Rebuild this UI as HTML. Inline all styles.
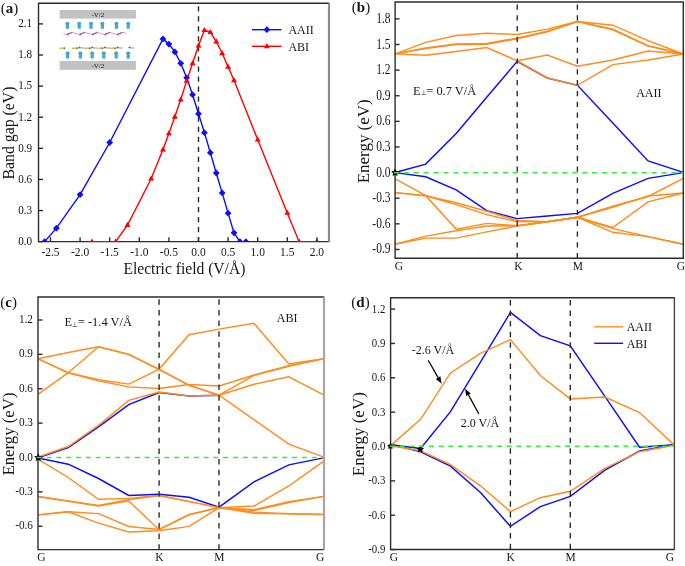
<!DOCTYPE html>
<html><head><meta charset="utf-8"><style>
html,body{margin:0;padding:0;background:#fff;}
svg{display:block;will-change:transform;}
text{font-family:'Liberation Serif', serif;fill:#161616;}
</style></head><body>
<svg width="685" height="566" viewBox="0 0 685 566">
<rect width="685" height="566" fill="#fff"/>
<clipPath id="ca"><rect x="38.5" y="3.3" width="290.2" height="238.35"/></clipPath>
<path d="M38.5,241.65 L38.5,3.3 L328.7,3.3 M38.5,241.65 L328.7,241.65" fill="none" stroke="#2c2c2c" stroke-width="1.4" stroke-linecap="square"/><line x1="329.0" y1="3.3" x2="329.0" y2="241.65" stroke="#8c8c8c" stroke-width="2.2"/>
<line x1="198.5" y1="6.2" x2="198.5" y2="241.65" stroke="#2a2a2a" stroke-width="1.4" stroke-dasharray="5.2,4.84"/>
<g clip-path="url(#ca)"><polyline points="44.58,241.65 56.42,228.17 80.10,194.57 109.70,142.51 162.98,38.92 168.90,44.10 174.82,51.88 180.74,63.29 186.66,77.80 192.58,94.71 198.50,113.79 204.42,132.66 210.34,152.68 216.26,173.00 222.18,192.91 228.10,213.13 234.02,232.84 239.94,241.65 245.86,241.65" fill="none" stroke="#0c0cff" stroke-width="1.4" stroke-linejoin="miter" />
<polyline points="91.94,241.65 115.62,241.65 127.46,225.06 151.14,178.70 162.98,149.46 168.90,133.39 174.82,116.80 180.74,99.58 186.66,80.91 192.58,63.29 198.50,45.66 204.42,30.10 210.34,32.18 216.26,41.51 222.18,53.23 228.10,66.71 234.02,80.29 257.70,139.61 287.30,212.93 299.14,241.65 316.90,241.65" fill="none" stroke="#ff0000" stroke-width="1.4" stroke-linejoin="miter" />
<polygon points="44.579999999999984,238.25 47.97999999999998,241.65 44.579999999999984,245.05 41.179999999999986,241.65" fill="#0c0cff"/>
<polygon points="56.41999999999999,224.769 59.819999999999986,228.169 56.41999999999999,231.56900000000002 53.01999999999999,228.169" fill="#0c0cff"/>
<polygon points="80.1,191.1702 83.5,194.5702 80.1,197.9702 76.69999999999999,194.5702" fill="#0c0cff"/>
<polygon points="109.69999999999999,139.11280000000002 113.1,142.51280000000003 109.69999999999999,145.91280000000003 106.29999999999998,142.51280000000003" fill="#0c0cff"/>
<polygon points="162.98,35.516499999999986 166.38,38.916499999999985 162.98,42.316499999999984 159.57999999999998,38.916499999999985" fill="#0c0cff"/>
<polygon points="168.9,40.70149999999999 172.3,44.10149999999999 168.9,47.501499999999986 165.5,44.10149999999999" fill="#0c0cff"/>
<polygon points="174.82,48.47899999999999 178.22,51.87899999999999 174.82,55.27899999999999 171.42,51.87899999999999" fill="#0c0cff"/>
<polygon points="180.74,59.886 184.14000000000001,63.286 180.74,66.686 177.34,63.286" fill="#0c0cff"/>
<polygon points="186.66,74.404 190.06,77.804 186.66,81.20400000000001 183.26,77.804" fill="#0c0cff"/>
<polygon points="192.58,91.30709999999999 195.98000000000002,94.7071 192.58,98.1071 189.18,94.7071" fill="#0c0cff"/>
<polygon points="198.5,110.38789999999999 201.9,113.7879 198.5,117.1879 195.1,113.7879" fill="#0c0cff"/>
<polygon points="204.42,129.2613 207.82,132.6613 204.42,136.06130000000002 201.01999999999998,132.6613" fill="#0c0cff"/>
<polygon points="210.34,149.27540000000002 213.74,152.67540000000002 210.34,156.07540000000003 206.94,152.67540000000002" fill="#0c0cff"/>
<polygon points="216.26,169.60060000000001 219.66,173.00060000000002 216.26,176.40060000000003 212.85999999999999,173.00060000000002" fill="#0c0cff"/>
<polygon points="222.18,189.511 225.58,192.911 222.18,196.311 218.78,192.911" fill="#0c0cff"/>
<polygon points="228.1,209.7325 231.5,213.1325 228.1,216.5325 224.7,213.1325" fill="#0c0cff"/>
<polygon points="234.02,229.4355 237.42000000000002,232.8355 234.02,236.2355 230.62,232.8355" fill="#0c0cff"/>
<polygon points="239.94,238.25 243.34,241.65 239.94,245.05 236.54,241.65" fill="#0c0cff"/>
<polygon points="245.86,238.25 249.26000000000002,241.65 245.86,245.05 242.46,241.65" fill="#0c0cff"/>
<polygon points="91.94,238.45000000000002 94.94,243.57 88.94,243.57" fill="#ff0000"/>
<polygon points="115.62,238.45000000000002 118.62,243.57 112.62,243.57" fill="#ff0000"/>
<polygon points="127.46,221.858 130.45999999999998,226.97799999999998 124.46,226.97799999999998" fill="#ff0000"/>
<polygon points="151.14,175.50410000000002 154.14,180.6241 148.14,180.6241" fill="#ff0000"/>
<polygon points="162.98,146.2607 165.98,151.3807 159.98,151.3807" fill="#ff0000"/>
<polygon points="168.9,130.18720000000002 171.9,135.3072 165.9,135.3072" fill="#ff0000"/>
<polygon points="174.82,113.5952 177.82,118.71520000000001 171.82,118.71520000000001" fill="#ff0000"/>
<polygon points="180.74,96.38099999999999 183.74,101.50099999999999 177.74,101.50099999999999" fill="#ff0000"/>
<polygon points="186.66,77.71499999999999 189.66,82.835 183.66,82.835" fill="#ff0000"/>
<polygon points="192.58,60.086 195.58,65.206 189.58,65.206" fill="#ff0000"/>
<polygon points="198.5,42.45700000000001 201.5,47.57700000000001 195.5,47.57700000000001" fill="#ff0000"/>
<polygon points="204.42,26.902000000000005 207.42,32.022000000000006 201.42,32.022000000000006" fill="#ff0000"/>
<polygon points="210.34,28.97599999999999 213.34,34.09599999999999 207.34,34.09599999999999" fill="#ff0000"/>
<polygon points="216.26,38.30900000000001 219.26,43.429000000000016 213.26,43.429000000000016" fill="#ff0000"/>
<polygon points="222.18,50.027100000000004 225.18,55.14710000000001 219.18,55.14710000000001" fill="#ff0000"/>
<polygon points="228.1,63.5081 231.1,68.6281 225.1,68.6281" fill="#ff0000"/>
<polygon points="234.02,77.0928 237.02,82.2128 231.02,82.2128" fill="#ff0000"/>
<polygon points="257.7,136.4092 260.7,141.52919999999997 254.7,141.52919999999997" fill="#ff0000"/>
<polygon points="287.3,209.72510000000003 290.3,214.8451 284.3,214.8451" fill="#ff0000"/>
<polygon points="299.14,238.45000000000002 302.14,243.57 296.14,243.57" fill="#ff0000"/>
<polygon points="316.9,238.45000000000002 319.9,243.57 313.9,243.57" fill="#ff0000"/></g>
<line x1="38.5" y1="241.65" x2="43.0" y2="241.65" stroke="#2c2c2c" stroke-width="1.4"/>
<text transform="translate(32.20,244.95) scale(0.97,1.06)" font-size="11.5" text-anchor="end">0.0</text>
<line x1="38.5" y1="210.54" x2="43.0" y2="210.54" stroke="#2c2c2c" stroke-width="1.4"/>
<text transform="translate(32.20,213.84) scale(0.97,1.06)" font-size="11.5" text-anchor="end">0.3</text>
<line x1="38.5" y1="179.43" x2="43.0" y2="179.43" stroke="#2c2c2c" stroke-width="1.4"/>
<text transform="translate(32.20,182.73) scale(0.97,1.06)" font-size="11.5" text-anchor="end">0.6</text>
<line x1="38.5" y1="148.32" x2="43.0" y2="148.32" stroke="#2c2c2c" stroke-width="1.4"/>
<text transform="translate(32.20,151.62) scale(0.97,1.06)" font-size="11.5" text-anchor="end">0.9</text>
<line x1="38.5" y1="117.21" x2="43.0" y2="117.21" stroke="#2c2c2c" stroke-width="1.4"/>
<text transform="translate(32.20,120.51) scale(0.97,1.06)" font-size="11.5" text-anchor="end">1.2</text>
<line x1="38.5" y1="86.10" x2="43.0" y2="86.10" stroke="#2c2c2c" stroke-width="1.4"/>
<text transform="translate(32.20,89.40) scale(0.97,1.06)" font-size="11.5" text-anchor="end">1.5</text>
<line x1="38.5" y1="54.99" x2="43.0" y2="54.99" stroke="#2c2c2c" stroke-width="1.4"/>
<text transform="translate(32.20,58.29) scale(0.97,1.06)" font-size="11.5" text-anchor="end">1.8</text>
<line x1="38.5" y1="23.88" x2="43.0" y2="23.88" stroke="#2c2c2c" stroke-width="1.4"/>
<text transform="translate(32.20,27.18) scale(0.97,1.06)" font-size="11.5" text-anchor="end">2.1</text>
<line x1="50.50" y1="241.65" x2="50.50" y2="237.15" stroke="#2c2c2c" stroke-width="1.4"/>
<text transform="translate(50.50,255.90) scale(1.0,1.09)" font-size="11.5" text-anchor="middle">-2.5</text>
<line x1="80.10" y1="241.65" x2="80.10" y2="237.15" stroke="#2c2c2c" stroke-width="1.4"/>
<text transform="translate(80.10,255.90) scale(1.0,1.09)" font-size="11.5" text-anchor="middle">-2.0</text>
<line x1="109.70" y1="241.65" x2="109.70" y2="237.15" stroke="#2c2c2c" stroke-width="1.4"/>
<text transform="translate(109.70,255.90) scale(1.0,1.09)" font-size="11.5" text-anchor="middle">-1.5</text>
<line x1="139.30" y1="241.65" x2="139.30" y2="237.15" stroke="#2c2c2c" stroke-width="1.4"/>
<text transform="translate(139.30,255.90) scale(1.0,1.09)" font-size="11.5" text-anchor="middle">-1.0</text>
<line x1="168.90" y1="241.65" x2="168.90" y2="237.15" stroke="#2c2c2c" stroke-width="1.4"/>
<text transform="translate(168.90,255.90) scale(1.0,1.09)" font-size="11.5" text-anchor="middle">-0.5</text>
<line x1="198.50" y1="241.65" x2="198.50" y2="237.15" stroke="#2c2c2c" stroke-width="1.4"/>
<text transform="translate(198.50,255.90) scale(1.0,1.09)" font-size="11.5" text-anchor="middle">0.0</text>
<line x1="228.10" y1="241.65" x2="228.10" y2="237.15" stroke="#2c2c2c" stroke-width="1.4"/>
<text transform="translate(228.10,255.90) scale(1.0,1.09)" font-size="11.5" text-anchor="middle">0.5</text>
<line x1="257.70" y1="241.65" x2="257.70" y2="237.15" stroke="#2c2c2c" stroke-width="1.4"/>
<text transform="translate(257.70,255.90) scale(1.0,1.09)" font-size="11.5" text-anchor="middle">1.0</text>
<line x1="287.30" y1="241.65" x2="287.30" y2="237.15" stroke="#2c2c2c" stroke-width="1.4"/>
<text transform="translate(287.30,255.90) scale(1.0,1.09)" font-size="11.5" text-anchor="middle">1.5</text>
<line x1="316.90" y1="241.65" x2="316.90" y2="237.15" stroke="#2c2c2c" stroke-width="1.4"/>
<text transform="translate(316.90,255.90) scale(1.0,1.09)" font-size="11.5" text-anchor="middle">2.0</text>
<text x="184.40" y="273.60" font-size="16" text-anchor="middle" font-weight="normal" textLength="122" lengthAdjust="spacingAndGlyphs">Electric field (V/Å)</text>
<text x="0.00" y="0.00" font-size="16" text-anchor="middle" font-weight="normal" transform="translate(13.8,133) rotate(-90)" textLength="93" lengthAdjust="spacingAndGlyphs">Band gap (eV)</text>
<text x="0.80" y="12.80" font-size="15" text-anchor="start" font-weight="normal" >(<tspan font-weight="bold">a</tspan>)</text>
<line x1="252" y1="29.7" x2="281.5" y2="29.7" stroke="#0c0cff" stroke-width="1.4"/>
<polygon points="266.9,26.3 270.29999999999995,29.7 266.9,33.1 263.5,29.7" fill="#0c0cff"/>
<line x1="252" y1="46.3" x2="281.5" y2="46.3" stroke="#ff0000" stroke-width="1.4"/>
<polygon points="266.9,43.099999999999994 269.9,48.22 263.9,48.22" fill="#ff0000"/>
<text x="288.40" y="34.00" font-size="12" text-anchor="start" font-weight="normal" >AAII</text>
<text x="288.40" y="50.50" font-size="12" text-anchor="start" font-weight="normal" >ABI</text>
<rect x="59.7" y="10" width="76.2" height="8.6" fill="#c2c2c2"/>
<rect x="59.7" y="61" width="76.2" height="8.8" fill="#c2c2c2"/>
<text x="97.80" y="17.00" font-size="7" text-anchor="middle" font-weight="normal" >-V/2</text>
<text x="97.80" y="68.00" font-size="7" text-anchor="middle" font-weight="normal" >-V/2</text>
<polygon points="65.80000000000001,28.8 65.80000000000001,24.3 64.9,24.3 66.2,22.1 68.60000000000001,22.1 69.9,24.3 69.0,24.3 69.0,28.8" fill="#45a8c8"/>
<polygon points="77.60000000000001,28.8 77.60000000000001,24.3 76.7,24.3 78.0,22.1 80.4,22.1 81.7,24.3 80.8,24.3 80.8,28.8" fill="#45a8c8"/>
<polygon points="89.4,28.8 89.4,24.3 88.5,24.3 89.8,22.1 92.2,22.1 93.5,24.3 92.6,24.3 92.6,28.8" fill="#45a8c8"/>
<polygon points="100.80000000000001,28.8 100.80000000000001,24.3 99.9,24.3 101.2,22.1 103.60000000000001,22.1 104.9,24.3 104.0,24.3 104.0,28.8" fill="#45a8c8"/>
<polygon points="114.80000000000001,28.8 114.80000000000001,24.3 113.9,24.3 115.2,22.1 117.60000000000001,22.1 118.9,24.3 118.0,24.3 118.0,28.8" fill="#45a8c8"/>
<polygon points="126.6,28.8 126.6,24.3 125.69999999999999,24.3 126.99999999999999,22.1 129.39999999999998,22.1 130.7,24.3 129.79999999999998,24.3 129.79999999999998,28.8" fill="#45a8c8"/>
<polygon points="66.0,58.4 66.0,53.800000000000004 65.1,53.800000000000004 66.39999999999999,51.6 68.8,51.6 70.1,53.800000000000004 69.19999999999999,53.800000000000004 69.19999999999999,58.4" fill="#45a8c8"/>
<polygon points="78.80000000000001,58.4 78.80000000000001,53.800000000000004 77.9,53.800000000000004 79.2,51.6 81.60000000000001,51.6 82.9,53.800000000000004 82.0,53.800000000000004 82.0,58.4" fill="#45a8c8"/>
<polygon points="90.60000000000001,58.4 90.60000000000001,53.800000000000004 89.7,53.800000000000004 91.0,51.6 93.4,51.6 94.7,53.800000000000004 93.8,53.800000000000004 93.8,58.4" fill="#45a8c8"/>
<polygon points="102.2,58.4 102.2,53.800000000000004 101.3,53.800000000000004 102.6,51.6 105.0,51.6 106.3,53.800000000000004 105.39999999999999,53.800000000000004 105.39999999999999,58.4" fill="#45a8c8"/>
<polygon points="114.60000000000001,58.4 114.60000000000001,53.800000000000004 113.7,53.800000000000004 115.0,51.6 117.4,51.6 118.7,53.800000000000004 117.8,53.800000000000004 117.8,58.4" fill="#45a8c8"/>
<polygon points="126.6,58.4 126.6,53.800000000000004 125.69999999999999,53.800000000000004 126.99999999999999,51.6 129.39999999999998,51.6 130.7,53.800000000000004 129.79999999999998,53.800000000000004 129.79999999999998,58.4" fill="#45a8c8"/>
<polyline points="63.50,33.60 67.60,34.60 71.70,32.40 80.20,34.60 84.30,32.40 92.80,34.60 96.90,32.40 105.40,34.60 109.50,32.40 118.00,34.60 122.10,32.40 126.30,33.20" fill="none" stroke="#c890d0" stroke-width="0.9" stroke-linejoin="miter" />
<line x1="67.1" y1="34.6" x2="71.7" y2="32.4" stroke="#8a5a90" stroke-width="1.1"/>
<circle cx="67.6" cy="34.5" r="0.9" fill="#9a50b0"/>
<circle cx="71.7" cy="32.5" r="0.8" fill="#c07878"/>
<line x1="79.69999999999999" y1="34.6" x2="84.3" y2="32.4" stroke="#8a5a90" stroke-width="1.1"/>
<circle cx="80.19999999999999" cy="34.5" r="0.9" fill="#9a50b0"/>
<circle cx="84.3" cy="32.5" r="0.8" fill="#c07878"/>
<line x1="92.3" y1="34.6" x2="96.9" y2="32.4" stroke="#8a5a90" stroke-width="1.1"/>
<circle cx="92.8" cy="34.5" r="0.9" fill="#9a50b0"/>
<circle cx="96.9" cy="32.5" r="0.8" fill="#c07878"/>
<line x1="104.89999999999999" y1="34.6" x2="109.5" y2="32.4" stroke="#8a5a90" stroke-width="1.1"/>
<circle cx="105.39999999999999" cy="34.5" r="0.9" fill="#9a50b0"/>
<circle cx="109.5" cy="32.5" r="0.8" fill="#c07878"/>
<line x1="117.5" y1="34.6" x2="122.1" y2="32.4" stroke="#8a5a90" stroke-width="1.1"/>
<circle cx="118.0" cy="34.5" r="0.9" fill="#9a50b0"/>
<circle cx="122.1" cy="32.5" r="0.8" fill="#c07878"/>
<line x1="59.3" y1="48.3" x2="65.5" y2="47.9" stroke="#c8bc28" stroke-width="1.2"/>
<circle cx="64.3" cy="48.4" r="0.8" fill="#6a6020"/>
<line x1="72.0" y1="48.3" x2="78.2" y2="47.9" stroke="#c8bc28" stroke-width="1.2"/>
<circle cx="77.0" cy="48.4" r="0.8" fill="#6a6020"/>
<line x1="78.3" y1="47.6" x2="84.6" y2="48.2" stroke="#a8a8d8" stroke-width="1.2"/>
<circle cx="79.6" cy="47.4" r="0.8" fill="#5050a0"/>
<line x1="84.69999999999999" y1="48.3" x2="90.89999999999999" y2="47.9" stroke="#c8bc28" stroke-width="1.2"/>
<circle cx="89.69999999999999" cy="48.4" r="0.8" fill="#6a6020"/>
<line x1="90.99999999999999" y1="47.6" x2="97.29999999999998" y2="48.2" stroke="#a8a8d8" stroke-width="1.2"/>
<circle cx="92.29999999999998" cy="47.4" r="0.8" fill="#5050a0"/>
<line x1="97.39999999999999" y1="48.3" x2="103.6" y2="47.9" stroke="#c8bc28" stroke-width="1.2"/>
<circle cx="102.39999999999999" cy="48.4" r="0.8" fill="#6a6020"/>
<line x1="103.69999999999999" y1="47.6" x2="109.99999999999999" y2="48.2" stroke="#a8a8d8" stroke-width="1.2"/>
<circle cx="104.99999999999999" cy="47.4" r="0.8" fill="#5050a0"/>
<line x1="110.1" y1="48.3" x2="116.3" y2="47.9" stroke="#c8bc28" stroke-width="1.2"/>
<circle cx="115.1" cy="48.4" r="0.8" fill="#6a6020"/>
<line x1="116.39999999999999" y1="47.6" x2="122.69999999999999" y2="48.2" stroke="#a8a8d8" stroke-width="1.2"/>
<circle cx="117.69999999999999" cy="47.4" r="0.8" fill="#5050a0"/>
<line x1="128.2" y1="47.6" x2="134.4" y2="48.2" stroke="#a8a8d8" stroke-width="1.2"/>
<circle cx="129.6" cy="47.4" r="0.8" fill="#5050a0"/>
<clipPath id="cb"><rect x="395.1" y="2.0" width="288.19999999999993" height="256.3"/></clipPath>
<g clip-path="url(#cb)"><polyline points="395.20,172.50 425.70,164.10 456.20,133.40 486.70,97.30 517.20,61.30 547.30,78.00 577.50,85.30 612.80,123.10 648.10,160.90 683.30,172.40" fill="none" stroke="#0c0cff" stroke-width="1.45" stroke-linejoin="miter" />
<polyline points="395.20,172.60 425.70,176.80 456.20,189.80 486.70,210.70 517.20,218.60 547.30,216.00 577.50,213.40 612.80,193.30 648.10,178.40 683.30,172.60" fill="none" stroke="#0c0cff" stroke-width="1.45" stroke-linejoin="miter" />
<polyline points="395.20,53.90 425.70,42.40 456.20,35.50 486.70,33.20 517.20,34.50 547.30,29.10 577.50,21.50 612.80,25.20 648.10,40.70 683.30,54.00" fill="none" stroke="#ff8c1c" stroke-width="1.45" stroke-linejoin="miter" />
<polyline points="395.20,53.90 425.70,48.00 456.20,43.90 486.70,43.40 517.20,38.10 547.30,31.30 577.50,21.50 612.80,29.30 648.10,45.60 683.30,54.00" fill="none" stroke="#ff8c1c" stroke-width="1.45" stroke-linejoin="miter" />
<polyline points="395.20,53.90 425.70,48.60 456.20,44.50 486.70,44.40 517.20,38.70 547.30,31.90 577.50,21.50 612.80,29.80 648.10,46.10 683.30,54.00" fill="none" stroke="#ff8c1c" stroke-width="1.45" stroke-linejoin="miter" />
<polyline points="395.20,53.90 425.70,55.30 456.20,51.50 486.70,47.50 517.20,60.80 547.30,78.00 577.50,85.30 612.80,64.60 648.10,60.00 683.30,54.00" fill="none" stroke="#ff8c1c" stroke-width="1.45" stroke-linejoin="miter" />
<polyline points="517.20,60.80 547.30,55.10 577.50,66.30 612.80,60.00 648.10,51.10 683.30,54.00" fill="none" stroke="#ff8c1c" stroke-width="1.45" stroke-linejoin="miter" />
<polyline points="395.20,178.80 425.70,195.70 456.20,229.10 486.70,223.40 517.20,225.80 547.30,221.80 577.50,217.30 612.80,206.10 648.10,196.50 683.30,178.40" fill="none" stroke="#ff8c1c" stroke-width="1.45" stroke-linejoin="miter" />
<polyline points="395.20,192.60 425.70,195.70 456.20,202.80 486.70,211.20 517.20,220.50 547.30,221.80 577.50,217.30 612.80,207.30 648.10,196.00 683.30,193.00" fill="none" stroke="#ff8c1c" stroke-width="1.45" stroke-linejoin="miter" />
<polyline points="395.20,192.60 425.70,195.70 456.20,204.60 486.70,214.60 517.20,221.60 547.30,221.80 577.50,217.30 612.80,227.50 648.10,201.80 683.30,193.00" fill="none" stroke="#ff8c1c" stroke-width="1.45" stroke-linejoin="miter" />
<polyline points="395.20,244.20 425.70,236.10 456.20,230.80 486.70,226.00 517.20,225.80 547.30,221.80 577.50,217.30 612.80,228.60 648.10,236.60 683.30,244.20" fill="none" stroke="#ff8c1c" stroke-width="1.45" stroke-linejoin="miter" />
<polyline points="395.20,244.20 425.70,238.10 456.20,238.10 486.70,231.90 517.20,226.00 547.30,221.80 577.50,217.30 612.80,232.30 648.10,236.60 683.30,244.20" fill="none" stroke="#ff8c1c" stroke-width="1.45" stroke-linejoin="miter" />
<line x1="517.2" y1="4.4" x2="517.2" y2="258.3" stroke="#2a2a2a" stroke-width="1.4" stroke-dasharray="5.3,5.51"/>
<line x1="577.4" y1="4.4" x2="577.4" y2="258.3" stroke="#2a2a2a" stroke-width="1.4" stroke-dasharray="5.3,5.51"/></g>
<path d="M395.1,258.3 L395.1,2.0 L683.3,2.0 M395.1,258.3 L683.3,258.3" fill="none" stroke="#2c2c2c" stroke-width="1.4" stroke-linecap="square"/><line x1="683.3" y1="2.0" x2="683.3" y2="258.3" stroke="#2c2c2c" stroke-width="1.4"/>
<line x1="395.1" y1="249.46" x2="399.6" y2="249.46" stroke="#2c2c2c" stroke-width="1.4"/>
<text transform="translate(390.50,253.46) scale(1.0,1.18)" font-size="11.5" text-anchor="end">-0.9</text>
<line x1="395.1" y1="223.84" x2="399.6" y2="223.84" stroke="#2c2c2c" stroke-width="1.4"/>
<text transform="translate(390.50,227.84) scale(1.0,1.18)" font-size="11.5" text-anchor="end">-0.6</text>
<line x1="395.1" y1="198.22" x2="399.6" y2="198.22" stroke="#2c2c2c" stroke-width="1.4"/>
<text transform="translate(390.50,202.22) scale(1.0,1.18)" font-size="11.5" text-anchor="end">-0.3</text>
<line x1="395.1" y1="172.60" x2="399.6" y2="172.60" stroke="#2c2c2c" stroke-width="1.4"/>
<text transform="translate(390.50,176.60) scale(1.0,1.18)" font-size="11.5" text-anchor="end">0.0</text>
<line x1="395.1" y1="146.98" x2="399.6" y2="146.98" stroke="#2c2c2c" stroke-width="1.4"/>
<text transform="translate(390.50,150.98) scale(1.0,1.18)" font-size="11.5" text-anchor="end">0.3</text>
<line x1="395.1" y1="121.36" x2="399.6" y2="121.36" stroke="#2c2c2c" stroke-width="1.4"/>
<text transform="translate(390.50,125.36) scale(1.0,1.18)" font-size="11.5" text-anchor="end">0.6</text>
<line x1="395.1" y1="95.74" x2="399.6" y2="95.74" stroke="#2c2c2c" stroke-width="1.4"/>
<text transform="translate(390.50,99.74) scale(1.0,1.18)" font-size="11.5" text-anchor="end">0.9</text>
<line x1="395.1" y1="70.12" x2="399.6" y2="70.12" stroke="#2c2c2c" stroke-width="1.4"/>
<text transform="translate(390.50,74.12) scale(1.0,1.18)" font-size="11.5" text-anchor="end">1.2</text>
<line x1="395.1" y1="44.50" x2="399.6" y2="44.50" stroke="#2c2c2c" stroke-width="1.4"/>
<text transform="translate(390.50,48.50) scale(1.0,1.18)" font-size="11.5" text-anchor="end">1.5</text>
<line x1="395.1" y1="18.88" x2="399.6" y2="18.88" stroke="#2c2c2c" stroke-width="1.4"/>
<text transform="translate(390.50,22.88) scale(1.0,1.18)" font-size="11.5" text-anchor="end">1.8</text>
<text x="398.90" y="269.70" font-size="11.5" text-anchor="middle" font-weight="normal" >G</text>
<text x="518.30" y="270.10" font-size="11.5" text-anchor="middle" font-weight="normal" >K</text>
<text x="577.80" y="270.10" font-size="11.5" text-anchor="middle" font-weight="normal" >M</text>
<text x="680.80" y="269.70" font-size="11.5" text-anchor="middle" font-weight="normal" >G</text>
<text x="0.00" y="0.00" font-size="16" text-anchor="middle" font-weight="normal" transform="translate(369.3,141.3) rotate(-90)" textLength="84" lengthAdjust="spacingAndGlyphs">Energy (eV)</text>
<text x="351.80" y="12.30" font-size="15" text-anchor="start" font-weight="normal" >(<tspan font-weight="bold">b</tspan>)</text>
<text x="412.90" y="94.50" font-size="13" text-anchor="start" font-weight="normal" textLength="63.4" lengthAdjust="spacingAndGlyphs">E<tspan font-size="7" dy="0.5">⊥</tspan><tspan dy="-0.5">= 0.7 V/Å</tspan></text>
<text x="636.20" y="96.50" font-size="12" text-anchor="start" font-weight="normal" >AAII</text>
<clipPath id="cc"><rect x="38.0" y="297.0" width="285.7" height="252.60000000000002"/></clipPath>
<g clip-path="url(#cc)"><polyline points="38.00,457.90 68.25,447.60 98.50,426.90 128.75,404.60 159.00,392.60 189.05,396.00 219.10,395.20" fill="none" stroke="#0c0cff" stroke-width="1.45" stroke-linejoin="miter" />
<polyline points="38.00,458.00 68.25,464.20 98.50,478.50 128.75,495.50 159.00,494.20 189.05,497.20 219.10,507.10 253.97,481.80 288.83,464.90 323.70,457.90" fill="none" stroke="#0c0cff" stroke-width="1.45" stroke-linejoin="miter" />
<polyline points="38.00,358.80 68.25,352.50 98.50,346.70 128.75,354.10 159.00,369.30 189.05,334.70 219.10,329.10 253.97,323.30 288.83,363.90 323.70,358.60" fill="none" stroke="#ff8c1c" stroke-width="1.45" stroke-linejoin="miter" />
<polyline points="38.00,394.50 68.25,372.70 98.50,346.70 128.75,354.60 159.00,369.30 189.05,385.10 219.10,395.20 253.97,375.40 288.83,366.20 323.70,358.60" fill="none" stroke="#ff8c1c" stroke-width="1.45" stroke-linejoin="miter" />
<polyline points="38.00,358.80 68.25,372.70 98.50,379.70 128.75,384.10 159.00,369.30 189.05,385.40 219.10,395.20 253.97,384.20 288.83,376.80 323.70,394.80" fill="none" stroke="#ff8c1c" stroke-width="1.45" stroke-linejoin="miter" />
<polyline points="38.00,358.80 68.25,372.90 98.50,380.90 128.75,386.90 159.00,388.50 189.05,384.60 219.10,386.00 253.97,375.00 288.83,365.70 323.70,358.60" fill="none" stroke="#ff8c1c" stroke-width="1.45" stroke-linejoin="miter" />
<polyline points="38.00,457.10 68.25,446.50 98.50,425.30 128.75,400.40 159.00,392.10 189.05,396.00 219.10,395.20 253.97,419.70 288.83,444.20 323.70,457.10" fill="none" stroke="#ff8c1c" stroke-width="1.45" stroke-linejoin="miter" />
<polyline points="38.00,459.10 68.25,477.50 98.50,499.30 128.75,498.40 159.00,495.50 189.05,501.40 219.10,507.60 253.97,506.00 288.83,486.00 323.70,461.20" fill="none" stroke="#ff8c1c" stroke-width="1.45" stroke-linejoin="miter" />
<polyline points="38.00,496.50 68.25,500.90 98.50,505.40 128.75,499.70 159.00,495.50 189.05,501.60 219.10,507.60 253.97,509.70 288.83,501.70 323.70,496.40" fill="none" stroke="#ff8c1c" stroke-width="1.45" stroke-linejoin="miter" />
<polyline points="38.00,496.50 68.25,501.30 98.50,505.90 128.75,500.90 159.00,529.70 189.05,514.50 219.10,507.60 253.97,510.50 288.83,502.50 323.70,496.40" fill="none" stroke="#ff8c1c" stroke-width="1.45" stroke-linejoin="miter" />
<polyline points="38.00,514.90 68.25,511.70 98.50,513.60 128.75,526.50 159.00,529.40 189.05,514.90 219.10,507.60 253.97,512.10 288.83,513.70 323.70,514.50" fill="none" stroke="#ff8c1c" stroke-width="1.45" stroke-linejoin="miter" />
<polyline points="38.00,514.90 68.25,511.70 98.50,523.10 128.75,532.00 159.00,530.70 189.05,526.40 219.10,507.60 253.97,513.20 288.83,513.70 323.70,514.50" fill="none" stroke="#ff8c1c" stroke-width="1.45" stroke-linejoin="miter" />
<line x1="159.1" y1="299.3" x2="159.1" y2="549.6" stroke="#2a2a2a" stroke-width="1.4" stroke-dasharray="5.5,5.15"/>
<line x1="219.0" y1="299.3" x2="219.0" y2="549.6" stroke="#2a2a2a" stroke-width="1.4" stroke-dasharray="5.5,5.15"/></g>
<path d="M38.0,549.6 L38.0,297.0 L323.7,297.0 M38.0,549.6 L323.7,549.6" fill="none" stroke="#2c2c2c" stroke-width="1.4" stroke-linecap="square"/><line x1="324.0" y1="297.0" x2="324.0" y2="549.6" stroke="#a6a6a6" stroke-width="2.2"/>
<line x1="38.0" y1="526.26" x2="42.5" y2="526.26" stroke="#2c2c2c" stroke-width="1.4"/>
<text transform="translate(33.00,529.36) scale(0.98,1.09)" font-size="11.5" text-anchor="end">-0.6</text>
<line x1="38.0" y1="491.88" x2="42.5" y2="491.88" stroke="#2c2c2c" stroke-width="1.4"/>
<text transform="translate(33.00,494.98) scale(0.98,1.09)" font-size="11.5" text-anchor="end">-0.3</text>
<line x1="38.0" y1="457.50" x2="42.5" y2="457.50" stroke="#2c2c2c" stroke-width="1.4"/>
<text transform="translate(33.00,460.60) scale(0.98,1.09)" font-size="11.5" text-anchor="end">0.0</text>
<line x1="38.0" y1="423.12" x2="42.5" y2="423.12" stroke="#2c2c2c" stroke-width="1.4"/>
<text transform="translate(33.00,426.22) scale(0.98,1.09)" font-size="11.5" text-anchor="end">0.3</text>
<line x1="38.0" y1="388.74" x2="42.5" y2="388.74" stroke="#2c2c2c" stroke-width="1.4"/>
<text transform="translate(33.00,391.84) scale(0.98,1.09)" font-size="11.5" text-anchor="end">0.6</text>
<line x1="38.0" y1="354.36" x2="42.5" y2="354.36" stroke="#2c2c2c" stroke-width="1.4"/>
<text transform="translate(33.00,357.46) scale(0.98,1.09)" font-size="11.5" text-anchor="end">0.9</text>
<line x1="38.0" y1="319.98" x2="42.5" y2="319.98" stroke="#2c2c2c" stroke-width="1.4"/>
<text transform="translate(33.00,323.08) scale(0.98,1.09)" font-size="11.5" text-anchor="end">1.2</text>
<text x="41.50" y="561.20" font-size="11.5" text-anchor="middle" font-weight="normal" >G</text>
<text x="159.50" y="560.60" font-size="11.5" text-anchor="middle" font-weight="normal" >K</text>
<text x="219.30" y="560.60" font-size="11.5" text-anchor="middle" font-weight="normal" >M</text>
<text x="320.10" y="561.20" font-size="11.5" text-anchor="middle" font-weight="normal" >G</text>
<text x="0.00" y="0.00" font-size="16" text-anchor="middle" font-weight="normal" transform="translate(13.8,434) rotate(-90)" textLength="83" lengthAdjust="spacingAndGlyphs">Energy (eV)</text>
<text x="0.30" y="307.20" font-size="15" text-anchor="start" font-weight="normal" >(<tspan font-weight="bold">c</tspan>)</text>
<text x="64.40" y="326.30" font-size="13" text-anchor="start" font-weight="normal" textLength="67.6" lengthAdjust="spacingAndGlyphs">E<tspan font-size="7" dy="0.5">⊥</tspan><tspan dy="-0.5">= -1.4 V/Å</tspan></text>
<text x="276.80" y="322.40" font-size="12" text-anchor="start" font-weight="normal" >ABI</text>
<clipPath id="cd"><rect x="390.6" y="297.7" width="283.5" height="251.8"/></clipPath>
<g clip-path="url(#cd)"><polyline points="390.60,444.70 420.55,448.40 450.50,411.60 480.45,362.20 510.40,312.40 540.35,335.60 570.30,345.80 604.90,396.40 639.50,447.20 674.10,444.80" fill="none" stroke="#0c0cff" stroke-width="1.45" stroke-linejoin="miter" />
<polyline points="390.60,444.20 420.55,451.90 450.50,466.10 480.45,492.40 510.40,526.40 540.35,506.60 570.30,496.40 604.90,470.10 639.50,451.00 674.10,444.80" fill="none" stroke="#0c0cff" stroke-width="1.45" stroke-linejoin="miter" />
<polyline points="390.60,445.60 420.55,419.30 450.50,372.90 480.45,353.30 510.40,339.60 540.35,375.50 570.30,398.90 604.90,397.00 639.50,412.50 674.10,444.90" fill="none" stroke="#ff8c1c" stroke-width="1.45" stroke-linejoin="miter" />
<polyline points="390.60,445.80 420.55,450.80 450.50,464.60 480.45,485.80 510.40,511.60 540.35,497.70 570.30,491.30 604.90,468.30 639.50,451.70 674.10,445.30" fill="none" stroke="#ff8c1c" stroke-width="1.45" stroke-linejoin="miter" />
<line x1="510.4" y1="299.9" x2="510.4" y2="549.5" stroke="#2a2a2a" stroke-width="1.4" stroke-dasharray="5.5,5.1"/>
<line x1="570.3" y1="299.9" x2="570.3" y2="549.5" stroke="#2a2a2a" stroke-width="1.4" stroke-dasharray="5.5,5.1"/></g>
<path d="M390.6,549.5 L390.6,297.7 L674.1,297.7 M390.6,549.5 L674.1,549.5" fill="none" stroke="#2c2c2c" stroke-width="1.4" stroke-linecap="square"/><line x1="674.4" y1="297.7" x2="674.4" y2="549.5" stroke="#444" stroke-width="1.4"/>
<line x1="390.6" y1="549.55" x2="395.1" y2="549.55" stroke="#2c2c2c" stroke-width="1.4"/>
<text transform="translate(385.30,553.15) scale(0.94,1.09)" font-size="11.5" text-anchor="end">-0.9</text>
<line x1="390.6" y1="515.20" x2="395.1" y2="515.20" stroke="#2c2c2c" stroke-width="1.4"/>
<text transform="translate(385.30,518.80) scale(0.94,1.09)" font-size="11.5" text-anchor="end">-0.6</text>
<line x1="390.6" y1="480.85" x2="395.1" y2="480.85" stroke="#2c2c2c" stroke-width="1.4"/>
<text transform="translate(385.30,484.45) scale(0.94,1.09)" font-size="11.5" text-anchor="end">-0.3</text>
<line x1="390.6" y1="446.50" x2="395.1" y2="446.50" stroke="#2c2c2c" stroke-width="1.4"/>
<text transform="translate(385.30,450.10) scale(0.94,1.09)" font-size="11.5" text-anchor="end">0.0</text>
<line x1="390.6" y1="412.15" x2="395.1" y2="412.15" stroke="#2c2c2c" stroke-width="1.4"/>
<text transform="translate(385.30,415.75) scale(0.94,1.09)" font-size="11.5" text-anchor="end">0.3</text>
<line x1="390.6" y1="377.80" x2="395.1" y2="377.80" stroke="#2c2c2c" stroke-width="1.4"/>
<text transform="translate(385.30,381.40) scale(0.94,1.09)" font-size="11.5" text-anchor="end">0.6</text>
<line x1="390.6" y1="343.45" x2="395.1" y2="343.45" stroke="#2c2c2c" stroke-width="1.4"/>
<text transform="translate(385.30,347.05) scale(0.94,1.09)" font-size="11.5" text-anchor="end">0.9</text>
<line x1="390.6" y1="309.10" x2="395.1" y2="309.10" stroke="#2c2c2c" stroke-width="1.4"/>
<text transform="translate(385.30,312.70) scale(0.94,1.09)" font-size="11.5" text-anchor="end">1.2</text>
<text x="393.80" y="561.20" font-size="11.5" text-anchor="middle" font-weight="normal" >G</text>
<text x="510.60" y="561.40" font-size="11.5" text-anchor="middle" font-weight="normal" >K</text>
<text x="570.60" y="561.40" font-size="11.5" text-anchor="middle" font-weight="normal" >M</text>
<text x="670.00" y="561.20" font-size="11.5" text-anchor="middle" font-weight="normal" >G</text>
<text x="0.00" y="0.00" font-size="16" text-anchor="middle" font-weight="normal" transform="translate(364.3,434.2) rotate(-90)" textLength="84" lengthAdjust="spacingAndGlyphs">Energy (eV)</text>
<text x="351.30" y="307.20" font-size="15" text-anchor="start" font-weight="normal" >(<tspan font-weight="bold">d</tspan>)</text>
<line x1="594.2" y1="326.8" x2="623.1" y2="326.8" stroke="#ff8c1c" stroke-width="1.4"/>
<line x1="594.2" y1="343.3" x2="623.1" y2="343.3" stroke="#0c0cff" stroke-width="1.4"/>
<text x="626.70" y="331.20" font-size="12" text-anchor="start" font-weight="normal" >AAII</text>
<text x="626.70" y="347.70" font-size="12" text-anchor="start" font-weight="normal" >ABI</text>
<text x="411.70" y="354.30" font-size="12" text-anchor="start" font-weight="normal" >-2.6 V/Å</text>
<text x="460.70" y="426.50" font-size="12" text-anchor="start" font-weight="normal" >2.0 V/Å</text>
<line x1="428.2" y1="360.2" x2="438.13" y2="377.62" stroke="#000" stroke-width="1.2"/><polygon points="441.6,383.7 435.87,378.91 440.39,376.33" fill="#000"/>
<line x1="478.8" y1="413.9" x2="468.44" y2="394.85" stroke="#000" stroke-width="1.2"/><polygon points="465.1,388.7 470.73,393.61 466.16,396.09" fill="#000"/>
<polygon points="395.10,168.50 396.33,171.00 399.09,171.40 397.10,173.35 397.57,176.10 395.10,174.80 392.63,176.10 393.10,173.35 391.11,171.40 393.87,171.00" fill="#000"/>
<line x1="393.8" y1="172.7" x2="683.3" y2="172.7" stroke="#35ee35" stroke-width="1.6" stroke-dasharray="5.2,4.71"/>
<polygon points="38.20,453.40 39.43,455.90 42.19,456.30 40.20,458.25 40.67,461.00 38.20,459.70 35.73,461.00 36.20,458.25 34.21,456.30 36.97,455.90" fill="#000"/>
<line x1="36.7" y1="457.5" x2="323.7" y2="457.5" stroke="#35ee35" stroke-width="1.6" stroke-dasharray="5.0,4.82"/>
<polygon points="390.40,442.60 391.46,444.74 393.82,445.09 392.11,446.76 392.52,449.11 390.40,448.00 388.28,449.11 388.69,446.76 386.98,445.09 389.34,444.74" fill="#000"/>
<polygon points="420.30,445.30 421.48,447.68 424.10,448.06 422.20,449.92 422.65,452.54 420.30,451.30 417.95,452.54 418.40,449.92 416.50,448.06 419.12,447.68" fill="#000"/>
<line x1="390.0" y1="446.3" x2="674.1" y2="446.3" stroke="#35ee35" stroke-width="1.6" stroke-dasharray="5.0,4.725"/>
</svg>
</body></html>
